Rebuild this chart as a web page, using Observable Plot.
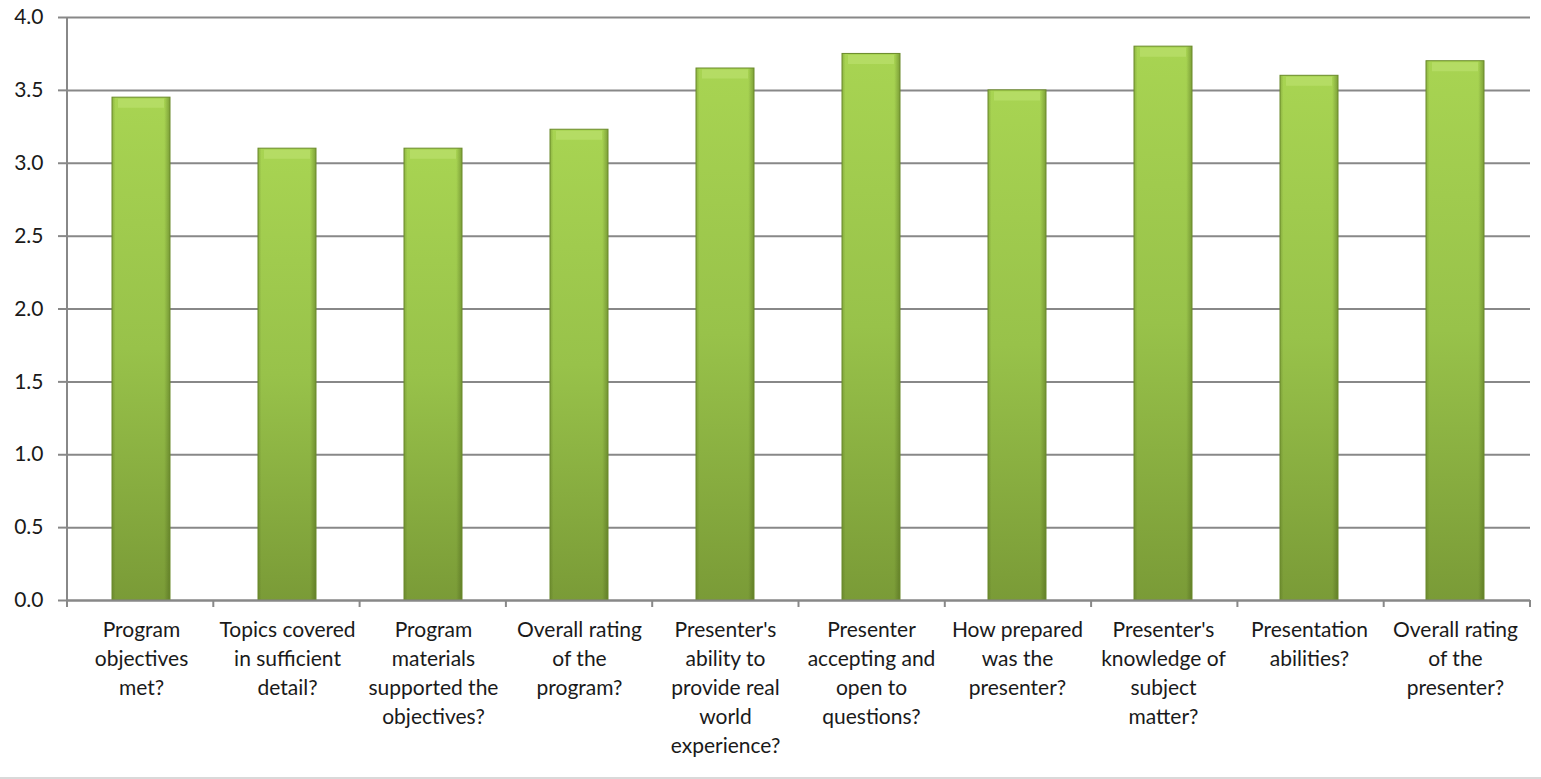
<!DOCTYPE html>
<html><head><meta charset="utf-8">
<script src="https://cdn.jsdelivr.net/npm/d3@7"></script>
<script src="https://cdn.jsdelivr.net/npm/@observablehq/plot@0.6"></script>
<style>
body{margin:0;background:#fff;}
#chart{width:1541px;height:777px;border-bottom:2px solid #d9d9d9;overflow:hidden;}
</style>
</head><body><div id="chart"></div>
<script>
const categories = [
  "Program\nobjectives\nmet?",
  "Topics covered\nin sufficient\ndetail?",
  "Program\nmaterials\nsupported the\nobjectives?",
  "Overall rating\nof the\nprogram?",
  "Presenter's\nability to\nprovide real\nworld\nexperience?",
  "Presenter\naccepting and\nopen to\nquestions?",
  "How prepared\nwas the\npresenter?",
  "Presenter's\nknowledge of\nsubject\nmatter?",
  "Presentation\nabilities?",
  "Overall rating\nof the\npresenter?"
];
const values = [3.45, 3.10, 3.10, 3.23, 3.65, 3.75, 3.50, 3.80, 3.60, 3.70];
const yTicks = [0, 0.5, 1.0, 1.5, 2.0, 2.5, 3.0, 3.5, 4.0];

const data = categories.map((c, i) => ({category: c, value: values[i]}));
const gray = "#888888";
const NS = "http://www.w3.org/2000/svg";

// left axis line and category-boundary tick marks, placed with the plot's scales
function axisFrame(index, scales, vals, dims) {
  const g = document.createElementNS(NS, "g");
  const x0 = dims.marginLeft, x1 = dims.width - dims.marginRight;
  const yb = scales.y(0), yt = scales.y(4);
  const add = (a, b, c, d) => {
    const l = document.createElementNS(NS, "line");
    l.setAttribute("x1", a); l.setAttribute("y1", b);
    l.setAttribute("x2", c); l.setAttribute("y2", d);
    l.setAttribute("stroke", gray); l.setAttribute("stroke-width", 2);
    g.appendChild(l);
  };
  add(x0, yt, x0, yb + 7);
  const n = categories.length;
  for (let i = 1; i <= n; i++) {
    const xx = x0 + i * (x1 - x0) / n;
    add(xx, yb, xx, yb + 7);
  }
  return g;
}

const plot = Plot.plot({
  width: 1541, height: 777,
  marginLeft: 67, marginRight: 11, marginTop: 17, marginBottom: 177,
  style: {fontFamily: "Lato, 'Open Sans', sans-serif", background: "#fff", color: "#1a1a1a"},
  x: {domain: categories, paddingInner: 0.6, paddingOuter: 0.3, label: null},
  y: {domain: [0, 4], label: null},
  marks: [
    Plot.gridY(yTicks, {stroke: gray, strokeOpacity: 1, strokeWidth: 2}),
    Plot.barY(data, {x: "category", y: "value", fill: "url(#vGrad)"}),
    Plot.barY(data, {x: "category", y: "value", fill: "url(#hGrad)", stroke: "#6a8a2a", strokeWidth: 1}),
    Plot.tickY(data, {x: "category", y: "value", stroke: "#b6dd66", strokeOpacity: 0.9, strokeWidth: 9, dy: 5.5, insetLeft: 6, insetRight: 6}),
    Plot.ruleY([0], {stroke: gray, strokeWidth: 2}),
    Plot.axisY({ticks: yTicks, tickFormat: d3.format(".1f"), tickSize: 9, tickPadding: 15, fontSize: 21, stroke: gray, strokeWidth: 2, label: null}),
    Plot.axisX({tickSize: 0, tickPadding: 16, fontSize: 21, lineHeight: 1.38, label: null}),
    axisFrame
  ]
});

const svg = d3.select(plot);
const defs = svg.insert("defs", ":first-child");
const vg = defs.append("linearGradient").attr("id", "vGrad").attr("x1", 0).attr("y1", 0).attr("x2", 0).attr("y2", 1);
vg.append("stop").attr("offset", "0%").attr("stop-color", "#a8d452");
vg.append("stop").attr("offset", "50%").attr("stop-color", "#98c24a");
vg.append("stop").attr("offset", "100%").attr("stop-color", "#7a9b37");
const hg = defs.append("linearGradient").attr("id", "hGrad").attr("x1", 0).attr("y1", 0).attr("x2", 1).attr("y2", 0);
hg.append("stop").attr("offset", "0%").attr("stop-color", "#3d5212").attr("stop-opacity", 0.25);
hg.append("stop").attr("offset", "6%").attr("stop-color", "#3d5212").attr("stop-opacity", 0);
hg.append("stop").attr("offset", "90%").attr("stop-color", "#3d5212").attr("stop-opacity", 0);
hg.append("stop").attr("offset", "100%").attr("stop-color", "#3d5212").attr("stop-opacity", 0.4);

document.getElementById("chart").appendChild(plot);
</script>
</body></html>
